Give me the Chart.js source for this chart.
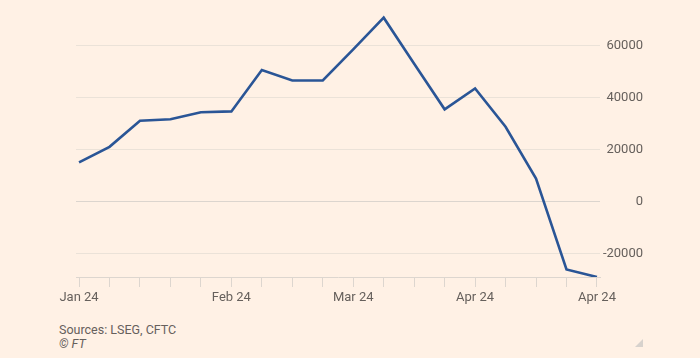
<!DOCTYPE html>
<html>
<head>
<meta charset="utf-8">
<script src="https://cdn.jsdelivr.net/npm/chart.js@4"></script>
<style>
  html, body { margin: 0; padding: 0; background: #fff1e5; }
  body { width: 700px; height: 358px; position: relative; overflow: hidden; font-family: Roboto, "Open Sans", sans-serif; }
  #wrap { position: absolute; left: 0; top: 0; width: 700px; height: 310px; }
  .foot { position: absolute; left: 59px; color: #66605c; font-size: 12.5px; line-height: 16px; }
  #src { top: 322px; }
  #copy { top: 336px; font-style: italic; }
  #tri { position: absolute; left: 635px; top: 339px; width: 0; height: 0;
         border-left: 8px solid transparent; border-bottom: 8px solid #d7d2cd; }
</style>
</head>
<body>
<div id="wrap"><canvas id="c"></canvas></div>
<div class="foot" id="src">Sources: LSEG, CFTC</div>
<div class="foot" id="copy">© FT</div>
<div id="tri"></div>
<script>
// Weekly net positions, Jan–Apr 2024
const weeks = ["Jan 24","","","","","Feb 24","","","","Mar 24","","","","Apr 24","","","","Apr 24"];
const positions = [15100, 21100, 31100, 31700, 34400, 34700, 50600, 46600, 46600, 58500, 70700, 53000, 35500, 43500, 28800, 8900, -26000, -28900];
const yTicks = [-20000, 0, 20000, 40000, 60000];

const points = positions.map((v, i) => ({ x: i, y: v }));
const txt = '#66605c';

new Chart(document.getElementById('c'), {
  type: 'line',
  data: {
    datasets: [{
      data: points,
      borderColor: '#2a5596',
      borderWidth: 2.6,
      pointRadius: 0,
      tension: 0,
      fill: false
    }]
  },
  options: {
    responsive: true,
    maintainAspectRatio: false,
    animation: false,
    layout: { padding: { left: 76, right: 57, top: 10, bottom: 0 } },
    plugins: { legend: { display: false }, tooltip: { enabled: false } },
    scales: {
      x: {
        type: 'linear',
        min: -0.1,
        max: weeks.length - 1 + 0.1,
        afterBuildTicks: s => { s.ticks = weeks.map((w, i) => ({ value: i })); },
        afterFit: s => { s.height = 33; },
        ticks: {
          autoSkip: false,
          maxRotation: 0,
          padding: 3,
          color: txt,
          font: { family: 'Roboto', size: 13 },
          callback: (v) => weeks[v] || ''
        },
        grid: { drawOnChartArea: false, drawTicks: true, tickLength: 10, color: '#ddd6cf', lineWidth: 1 },
        border: { display: true, color: '#ddd6cf', width: 1 }
      },
      y: {
        position: 'right',
        min: Math.min(...positions),
        max: 73650,
        afterBuildTicks: s => { s.ticks = yTicks.map(v => ({ value: v })); },
        afterFit: s => { s.width = 43; },
        ticks: {
          crossAlign: 'far',
          padding: 0,
          color: txt,
          font: { family: 'Roboto', size: 13 },
          callback: v => String(v)
        },
        grid: {
          drawTicks: false,
          color: ctx => ctx.tick && ctx.tick.value === 0 ? '#dcd5ce' : '#ebe2d8',
          lineWidth: 1
        },
        border: { display: false }
      }
    }
  }
});
</script>
</body>
</html>
